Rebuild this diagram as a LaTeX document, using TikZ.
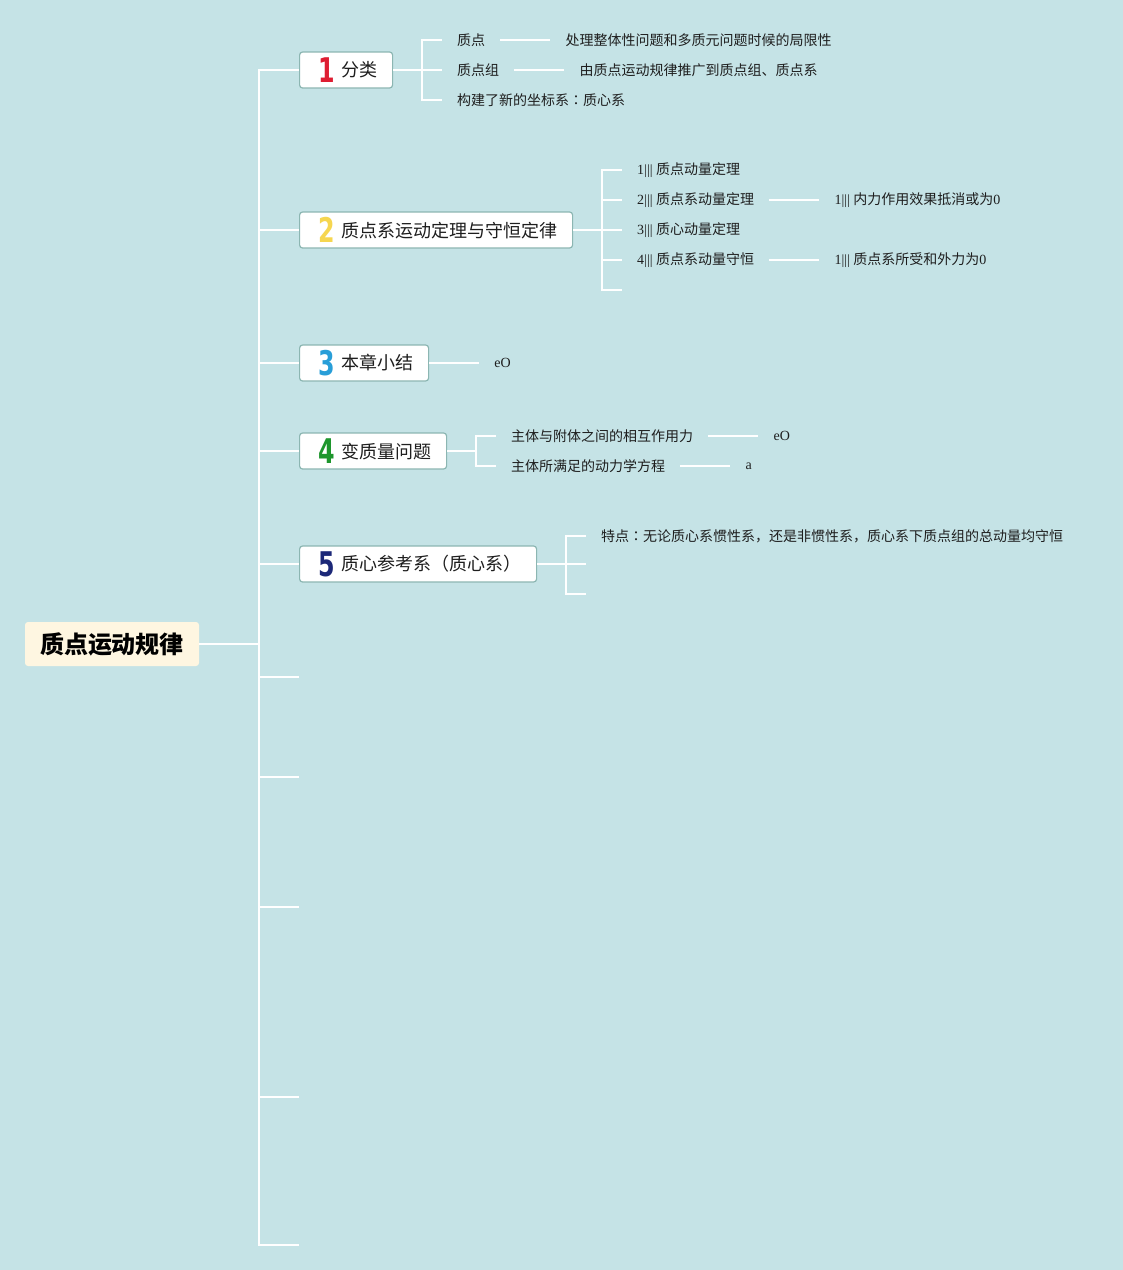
\documentclass[tikz,border=0pt]{standalone}
\usepackage{fontspec}
\usepackage{graphicx}
\setmainfont{Liberation Serif}
\newfontfamily\cjk{Noto Sans CJK SC}
\newfontfamily\cjkjp{Noto Sans CJK JP}
\newfontfamily\numfont{DejaVu Sans}
\usetikzlibrary{positioning}
\definecolor{bg}{RGB}{197,227,230}
\definecolor{boxborder}{RGB}{140,182,178}
\definecolor{rootfill}{RGB}{254,246,225}
\definecolor{txt}{RGB}{30,30,30}
\definecolor{nred}{RGB}{222,30,50}
\definecolor{nyellow}{RGB}{246,214,80}
\definecolor{nblue}{RGB}{40,158,216}
\definecolor{ngreen}{RGB}{30,150,45}
\definecolor{nnavy}{RGB}{28,40,120}
\newcommand\bignum[2]{\makebox[24pt]{\raisebox{-5.4pt}{\textcolor{#1}{\scalebox{0.7}[1]{\numfont\bfseries\fontsize{34}{34}\selectfont #2}}}}\hspace{3pt}}
\begin{document}
\begin{tikzpicture}[x=1pt,y=-1pt,
  conn/.style={white, line width=2pt},
  box/.style={draw=boxborder, fill=white, rounded corners=3pt, line width=1.2pt, minimum height=36pt, inner xsep=15pt, inner ysep=0pt, font=\cjk\fontsize{18}{20}\selectfont, text=txt, anchor=west},
  leaf/.style={inner xsep=15pt, inner ysep=2pt, font=\fontsize{14}{16}\selectfont, text=txt, anchor=west},
  root/.style={fill=rootfill, rounded corners=3pt, minimum width=174pt, minimum height=44pt, inner sep=0pt, font=\cjk\bfseries\fontsize{24}{26}\selectfont, text=black}
]
\useasboundingbox (0,0) rectangle (1123,1270);
\fill[bg] (0,0) rectangle (1123,1270);

% root
\node[root] (root) at (112,644) {质点运动规律};

% trunk coordinates
\coordinate (tr) at (259,644);
\coordinate (t1) at (259,70);
\coordinate (t2) at (259,230);
\coordinate (t3) at (259,363);
\coordinate (t4) at (259,451);
\coordinate (t5) at (259,564);
\coordinate (t6) at (259,677);
\coordinate (t7) at (259,777);
\coordinate (t8) at (259,907);
\coordinate (t9) at (259,1097);
\coordinate (t10) at (259,1245);
\coordinate (e6) at (299,677);
\coordinate (e7) at (299,777);
\coordinate (e8) at (299,907);
\coordinate (e9) at (299,1097);
\coordinate (e10) at (299,1245);

% main boxes
\node[box] (b1) at (299,70) {\bignum{nred}{1}分类};
\node[box] (b2) at (299,230) {\bignum{nyellow}{2}质点系运动定理与守恒定律};
\node[box] (b3) at (299,363) {\bignum{nblue}{3}本章小结};
\node[box] (b4) at (299,451) {\bignum{ngreen}{4}变质量问题};
\node[box] (b5) at (299,564) {\bignum{nnavy}{5}质心参考系（质心系）};

\draw[conn] (root.east) -- (tr);
\draw[conn] (b1.west) -- (t1) -- (t10) -- (e10);
\draw[conn] (t2) -- (b2.west);
\draw[conn] (t3) -- (b3.west);
\draw[conn] (t4) -- (b4.west);
\draw[conn] (t5) -- (b5.west);
\draw[conn] (t6) -- (e6);
\draw[conn] (t7) -- (e7);
\draw[conn] (t8) -- (e8);
\draw[conn] (t9) -- (e9);

% branch 1
\coordinate (k1) at (422,70);
\coordinate (k1a) at (422,40);
\coordinate (k1b) at (422,100);
\node[leaf] (a1) at (442,40) {\cjk 质点};
\node[leaf] (a2) at (442,70) {\cjk 质点组};
\node[leaf] (a3) at (442,100) {\cjk 构建了新的坐标系{\cjkjp ：}质心系};
\node[leaf, right=50pt of a1] (a1x) {\cjk 处理整体性问题和多质元问题时候的局限性};
\node[leaf, right=50pt of a2] (a2x) {\cjk 由质点运动规律推广到质点组、质点系};
\draw[conn] (b1.east) -- (k1) -- (a2.west);
\draw[conn] (a1.west) -- (k1a) -- (k1b) -- (a3.west);
\draw[conn] (a1.east) -- (a1x.west);
\draw[conn] (a2.east) -- (a2x.west);

% branch 2
\coordinate (k2) at (602,230);
\coordinate (k2a) at (602,170);
\coordinate (k2b) at (602,290);
\coordinate (c5) at (622,290);
\node[leaf] (c1) at (622,170) {1||| {\cjk 质点动量定理}};
\node[leaf] (c2) at (622,200) {2||| {\cjk 质点系动量定理}};
\node[leaf] (c3) at (622,230) {3||| {\cjk 质心动量定理}};
\node[leaf] (c4) at (622,260) {4||| {\cjk 质点系动量守恒}};
\node[leaf, right=50pt of c2] (c2x) {1||| {\cjk 内力作用效果抵消或为}0};
\node[leaf, right=50pt of c4] (c4x) {1||| {\cjk 质点系所受和外力为}0};
\draw[conn] (b2.east) -- (k2) -- (c3.west);
\draw[conn] (c1.west) -- (k2a) -- (k2b) -- (c5);
\draw[conn] (k2) |- (c2.west);
\draw[conn] (k2) |- (c4.west);
\draw[conn] (c2.east) -- (c2x.west);
\draw[conn] (c4.east) -- (c4x.west);

% branch 3
\node[leaf, right=50pt of b3] (d1) {eO};
\draw[conn] (b3.east) -- (d1.west);

% branch 4
\coordinate (k4) at (476,451);
\coordinate (k4a) at (476,436);
\coordinate (k4b) at (476,466);
\node[leaf] (f1) at (496,436) {\cjk 主体与附体之间的相互作用力};
\node[leaf] (f2) at (496,466) {\cjk 主体所满足的动力学方程};
\node[leaf, right=50pt of f1] (f1x) {eO};
\node[leaf, right=50pt of f2] (f2x) {a};
\draw[conn] (b4.east) -- (k4);
\draw[conn] (f1.west) -- (k4a) -- (k4b) -- (f2.west);
\draw[conn] (f1.east) -- (f1x.west);
\draw[conn] (f2.east) -- (f2x.west);

% branch 5
\coordinate (k5) at (566,564);
\coordinate (k5a) at (566,536);
\coordinate (k5b) at (566,594);
\coordinate (g2) at (586,564);
\coordinate (g3) at (586,594);
\node[leaf] (g1) at (586,536) {\cjk 特点{\cjkjp ：}无论质心系惯性系，还是非惯性系，质心系下质点组的总动量均守恒};
\draw[conn] (b5.east) -- (k5) -- (g2);
\draw[conn] (g1.west) -- (k5a) -- (k5b) -- (g3);
\end{tikzpicture}
\end{document}
